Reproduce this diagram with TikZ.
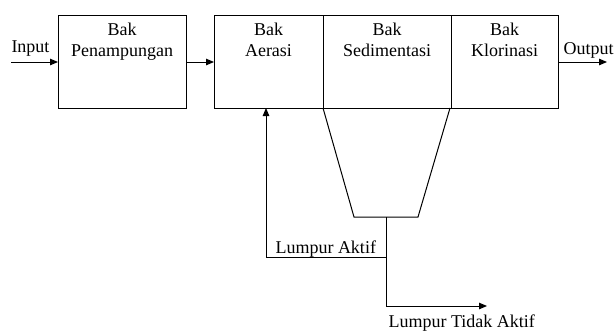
\documentclass[tikz,border=0pt]{standalone}
\usepackage{fontspec}
\setmainfont{Liberation Serif}
\usetikzlibrary{arrows.meta}
\begin{document}
\begin{tikzpicture}[x=1pt,y=-1pt,
  line width=1pt,
  tank/.style={draw, minimum height=93pt, inner sep=0pt, outer sep=0pt},
  lbl/.style={font=\rmfamily\fontsize{18}{20.5}\selectfont, inner sep=0pt, align=center},
  arr/.style={-{Triangle[length=8pt,width=6.5pt]}}]
\useasboundingbox (0,0) rectangle (615,330);
% boxes
\node[tank, minimum width=128pt, anchor=north west] (pen) at (58,15) {};
\node[tank, minimum width=109pt, anchor=north west] (aer) at (214,15) {};
\node[tank, minimum width=128pt, anchor=north west] (sed) at (323,15) {};
\node[tank, minimum width=107pt, anchor=north west] (klo) at (451,15) {};
% labels
\node[lbl, anchor=north] at ([yshift=-8pt]pen.north) {Bak\\Penampungan};
\node[lbl, anchor=north] at ([yshift=-8pt]aer.north) {Bak\\Aerasi};
\node[lbl, anchor=north] at ([yshift=-8pt]sed.north) {Bak\\Sedimentasi};
\node[lbl, anchor=north] at ([yshift=-8pt]klo.north) {Bak\\Klorinasi};
% input/output
\coordinate (in) at (11,62);
\coordinate (out) at (607,62);
\node[lbl, anchor=base west] (intxt) at (11,52) {Input};
\node[lbl, anchor=base west] (outtxt) at (563,54) {Output};
\draw[arr] (in) -- (in -| pen.west);
\draw[arr] (pen.east |- in) -- (in -| aer.west);
\draw[arr] (klo.east |- out) -- (out);
% hopper
\coordinate (hl) at (323,108);
\coordinate (hr) at (450,108);
\coordinate (bl) at (354,217);
\coordinate (br) at (418,217);
\coordinate (bc) at (386,217);
\draw (hl) -- (bl) -- (br) -- (hr);
% sludge lines
\coordinate (j) at (386,257);
\coordinate (ra) at (266,257);
\coordinate (down) at (386,306);
\coordinate (waste) at (487,306);
\draw[arr] (bc) -- (j) -- (ra) -- (ra |- aer.south);
\draw[arr] (j) -- (down) -- (waste);
\node[lbl, anchor=base west] (la) at (275,253) {Lumpur Aktif};
\node[lbl, anchor=base west] (lta) at (388,327) {Lumpur Tidak Aktif};
\end{tikzpicture}
\end{document}
